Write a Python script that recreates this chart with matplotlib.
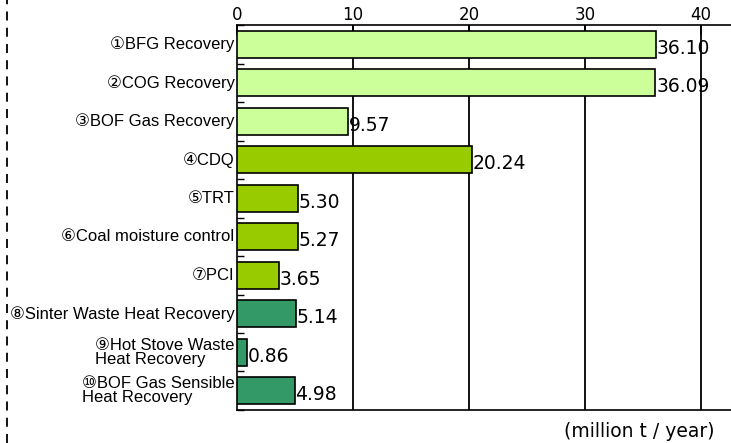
import numpy as np
import matplotlib.pyplot as plt
from matplotlib.lines import Line2D

labels = ["①BFG Recovery", "②COG Recovery", "③BOF Gas Recovery", "④CDQ", "⑤TRT",
          "⑥Coal moisture control", "⑦PCI", "⑧Sinter Waste Heat Recovery",
          "⑨Hot Stove Waste\nHeat Recovery", "⑩BOF Gas Sensible\nHeat Recovery"]
values = [36.10, 36.09, 9.57, 20.24, 5.30, 5.27, 3.65, 5.14, 0.86, 4.98]
colors = ["#CCFF99"] * 3 + ["#99CC00"] * 4 + ["#339966"] * 3
ticks = [0, 10, 20, 30, 40]

fig = plt.figure(figsize=(7.31, 4.43), dpi=100)
ax = fig.add_axes([0.324, 0.0745, 0.676, 0.869])

y = np.arange(len(values))
ax.barh(y, values, height=0.7, color=colors, edgecolor="black", linewidth=1.2, zorder=3)
for yi, v in zip(y, values):
    ax.text(v + 0.05, yi + 0.1, f"{v:.2f}", va="center", ha="left",
            fontsize=13.5, family="DejaVu Sans", zorder=4)

ax.set_xlim(0, 42.6)
ax.set_ylim(len(values) - 0.5, -0.5)
ax.xaxis.tick_top()
ax.set_xticks(ticks)
ax.set_xticklabels([str(t) for t in ticks], fontsize=12, family="DejaVu Sans")
ax.tick_params(axis="x", direction="in", length=7, width=1.2, pad=1)
for t in ticks[1:]:
    ax.axvline(t, color="black", lw=1.3, zorder=1)

ax.set_yticks(y)
ax.set_yticklabels([])
ax.tick_params(axis="y", length=0)
ax.set_yticks(np.arange(len(values) + 1) - 0.5, minor=True)
ax.tick_params(axis="y", which="minor", direction="in", length=5, width=1)
for yi, lab in zip(y, labels):
    ax.text(-0.2, yi, lab, ha="right", va="center", multialignment="left",
            fontsize=12, family=["Liberation Sans", "DejaVu Sans"],
            linespacing=0.95, clip_on=False)

ax.spines["right"].set_visible(False)
for s in ["top", "bottom", "left"]:
    ax.spines[s].set_linewidth(1.2)

fig.text(0.978, 0.025, "(million t / year)", ha="right", va="center",
         fontsize=13.5, family="DejaVu Sans")
fig.add_artist(Line2D([0.0096, 0.0096], [0, 1], color="black", lw=1.3,
                      linestyle=(0, (5, 4)), transform=fig.transFigure))

fig.savefig("out.png", dpi=100)
